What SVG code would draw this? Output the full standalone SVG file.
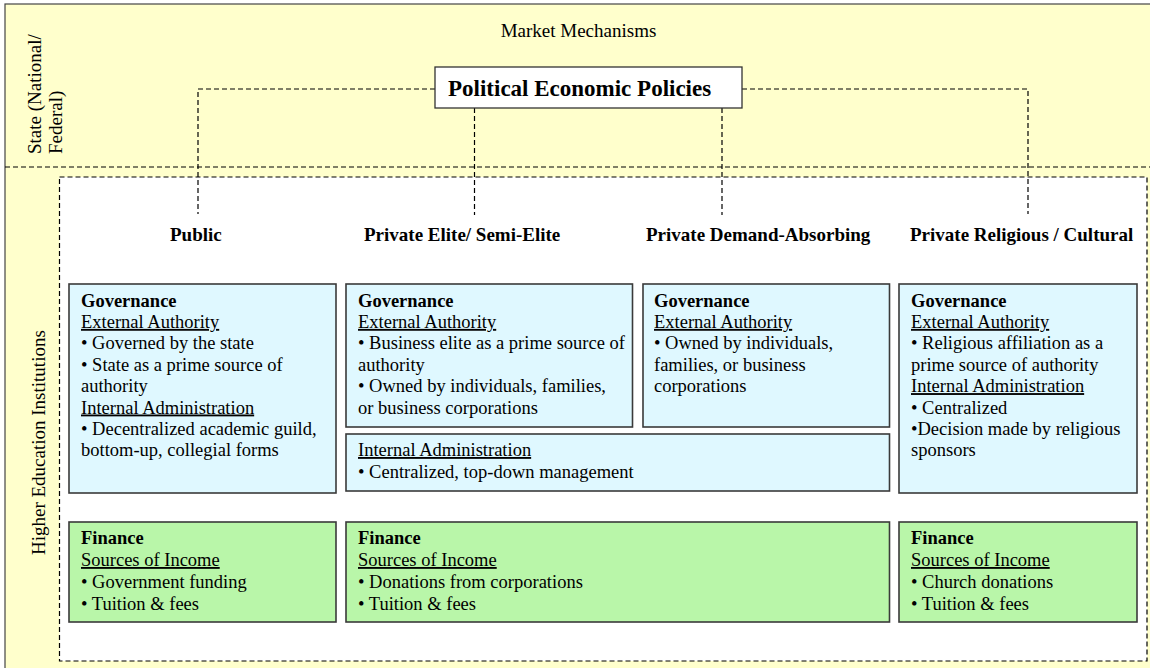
<svg xmlns="http://www.w3.org/2000/svg" width="1150" height="668" viewBox="0 0 1150 668">
<style>
text{font-family:"Liberation Serif","Times New Roman",serif;fill:#000}
.b{font-size:18.5px}
.h{font-size:18.5px;font-weight:bold}
.u{text-decoration:underline}
.hd{font-size:19px;font-weight:bold}
.lbl{font-size:19px}
.gov{fill:#DFF8FF;stroke:#3a3a3a;stroke-width:1.6}
.fin{fill:#B9F6A9;stroke:#3a3a3a;stroke-width:1.6}
.dash{fill:none;stroke:#000;stroke-width:1.2;stroke-dasharray:5,3}
</style>
<rect x="0" y="0" width="1150" height="668" fill="#fff"/>
<g id="background">
<rect x="5" y="4" width="1150" height="670" fill="#FFFFCC" stroke="#444" stroke-width="1.2"/>
<line class="dash" x1="5" y1="167" x2="1150" y2="167"/>
<rect class="dash" x="59.5" y="177" width="1087.5" height="484" style="fill:#fff"/>
</g>
<g id="state-label">
<text class="lbl" transform="translate(41,154) rotate(-90)">State (National/</text>
<text class="lbl" transform="translate(62,154) rotate(-90)">Federal)</text>
</g>
<g id="hei-label">
<text class="lbl" transform="translate(45,555) rotate(-90)">Higher Education Institutions</text>
</g>
<g id="market-label">
<text class="lbl" x="578.5" y="37" text-anchor="middle">Market Mechanisms</text>
</g>
<g id="connectors">
<path class="dash" d="M435,89 H198 V214"/>
<path class="dash" d="M474.5,108 V215"/>
<path class="dash" d="M722,108 V215"/>
<path class="dash" d="M742,89 H1028 V214"/>
</g>
<g id="policies">
<rect x="435" y="67" width="307" height="41" fill="#fff" stroke="#333" stroke-width="1.3"/>
<text x="448" y="96" style="font-size:23px;font-weight:bold">Political Economic Policies</text>
</g>
<g id="headers">
<text class="hd" x="170" y="241">Public</text>
<text class="hd" x="364" y="241">Private Elite/ Semi-Elite</text>
<text class="hd" x="646" y="241">Private Demand-Absorbing</text>
<text class="hd" x="910" y="241">Private Religious / Cultural</text>
</g>
<g id="public-governance">
<rect class="gov" x="69" y="284" width="267" height="209"/>
<text class="h" x="81" y="306.5">Governance</text>
<text class="b u" x="81" y="327.9">External Authority</text>
<text class="b" x="81" y="349.3">• Governed by the state</text>
<text class="b" x="81" y="370.7">• State as a prime source of</text>
<text class="b" x="81" y="392.1">authority</text>
<text class="b u" x="81" y="413.5">Internal Administration</text>
<text class="b" x="81" y="434.9">• Decentralized academic guild,</text>
<text class="b" x="81" y="456.3">bottom-up, collegial forms</text>
</g>
<g id="elite-governance">
<rect class="gov" x="346" y="284" width="286.5" height="143"/>
<text class="h" x="358" y="306.5">Governance</text>
<text class="b u" x="358" y="327.9">External Authority</text>
<text class="b" x="358" y="349.3">• Business elite as a prime source of</text>
<text class="b" x="358" y="370.7">authority</text>
<text class="b" x="358" y="392.1">•  Owned by individuals, families,</text>
<text class="b" x="358" y="413.5">or business corporations</text>
</g>
<g id="demand-governance">
<rect class="gov" x="643" y="284" width="246.5" height="143"/>
<text class="h" x="654" y="306.5">Governance</text>
<text class="b u" x="654" y="327.9">External Authority</text>
<text class="b" x="654" y="349.3">• Owned by individuals,</text>
<text class="b" x="654" y="370.7">families, or business</text>
<text class="b" x="654" y="392.1">corporations</text>
</g>
<g id="private-internal-admin">
<rect class="gov" x="346" y="434" width="543.5" height="57"/>
<text class="b u" x="358" y="456">Internal Administration</text>
<text class="b" x="358" y="478">• Centralized, top-down management</text>
</g>
<g id="religious-governance">
<rect class="gov" x="899" y="284" width="238" height="209"/>
<text class="h" x="911" y="306.5">Governance</text>
<text class="b u" x="911" y="327.9">External Authority</text>
<text class="b" x="911" y="349.3">• Religious affiliation as a</text>
<text class="b" x="911" y="370.7">prime source of authority</text>
<text class="b u" x="911" y="392.1">Internal Administration</text>
<text class="b" x="911" y="413.5">• Centralized</text>
<text class="b" x="911" y="434.9">•Decision made by religious</text>
<text class="b" x="911" y="456.3">sponsors</text>
</g>
<g id="public-finance">
<rect class="fin" x="69" y="522" width="267" height="100"/>
<text class="h" x="81" y="543.5">Finance</text>
<text class="b u" x="81" y="566">Sources of Income</text>
<text class="b" x="81" y="588">• Government funding</text>
<text class="b" x="81" y="609.7">• Tuition &amp; fees</text>
</g>
<g id="private-finance">
<rect class="fin" x="346" y="522" width="543.5" height="100"/>
<text class="h" x="358" y="543.5">Finance</text>
<text class="b u" x="358" y="566">Sources of Income</text>
<text class="b" x="358" y="588">• Donations from corporations</text>
<text class="b" x="358" y="609.7">• Tuition &amp; fees</text>
</g>
<g id="religious-finance">
<rect class="fin" x="899" y="522" width="238" height="100"/>
<text class="h" x="911" y="543.5">Finance</text>
<text class="b u" x="911" y="566">Sources of Income</text>
<text class="b" x="911" y="588">• Church donations</text>
<text class="b" x="911" y="609.7">• Tuition &amp; fees</text>
</g>
</svg>
